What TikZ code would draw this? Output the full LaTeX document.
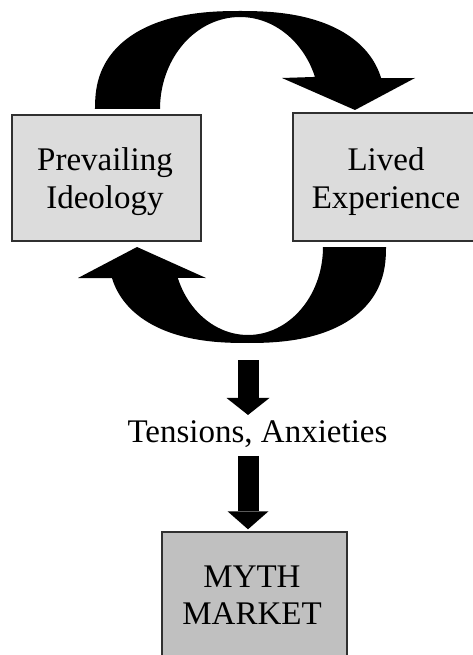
\documentclass[tikz,border=0pt]{standalone}
\usepackage{fontspec}
\setmainfont{Liberation Serif}
\usetikzlibrary{arrows.meta}
\definecolor{boxgray}{HTML}{DCDCDC}
\definecolor{marketgray}{HTML}{C0C0C0}
\definecolor{edgegray}{HTML}{303030}
\begin{document}
\begin{tikzpicture}[x=1pt,y=-1pt,
  % superellipse helper: sign(t)*|t|^(2/2.4)
  declare function={spw(\t)=\t*pow(abs(\t)+0.0001,-0.1667);},
  panel/.style={draw=edgegray,line width=1.4pt,rectangle,inner sep=0pt},
  lightpanel/.style={panel,fill=boxgray},
  marketpanel/.style={panel,fill=marketgray},
  caption/.style={font=\fontsize{33}{38}\selectfont,align=center,inner sep=0pt},
  downarrow/.style={line width=21pt,-{Triangle[width=43pt,length=17pt,line width=0pt]}},
  loop/.style={fill=black}
]
\fill[white] (0,0) rectangle (472,655);
\useasboundingbox (0,0) rectangle (472,655);

% boxes
\node[lightpanel,minimum width=189pt,minimum height=126pt] (ideology) at (106.5,178) {};
\node[caption] (ideologytext) at (105,181.5) {Prevailing\\Ideology};
\node[lightpanel,minimum width=187pt,minimum height=128pt] (experience) at (386.5,177) {};
\node[caption] (experiencetext) at (386,181.5) {Lived\\Experience};
\node[marketpanel,minimum width=185pt,minimum height=168pt] (myth) at (254.5,616) {};
\node[caption,font=\fontsize{33}{37}\selectfont] (mythtext) at (252,595) {MYTH\\MARKET};
\node[caption,inner sep=5pt,anchor=base] (tension) at (257.5,442) {Tensions, Anxieties};

% upper curved arrow: ideology -> experience
\fill[loop] plot[domain=180:345.5,samples=80] ({240+145*spw(cos(\x))},{109+98*spw(sin(\x))})
  -- (415,78) -- (355,110) -- (282,78)
  -- plot[domain=0:159.6,samples=60] ({240+80*cos(339.6-\x)},{109+92*sin(339.6-\x)}) -- cycle;

% lower curved arrow: experience -> ideology
\fill[loop] plot[domain=0:165,samples=80] ({247+139*spw(cos(\x))},{247+96*spw(sin(\x))})
  -- (78,278) -- (137,247) -- (206,278)
  -- plot[domain=0:159.4,samples=60] ({248+75*cos(159.4-\x)},{247+88*sin(159.4-\x)}) -- cycle;

% straight arrows down to the market
\coordinate (spring) at (248,360);
\draw[downarrow] (spring) -- (spring |- tension.north);
\draw[line width=21pt,-{Triangle[width=41pt,length=18pt,line width=0pt]},shorten >=2pt]
  ([yshift=-3.5pt]spring |- tension.south) -- (spring |- myth.north);
\end{tikzpicture}
\end{document}
